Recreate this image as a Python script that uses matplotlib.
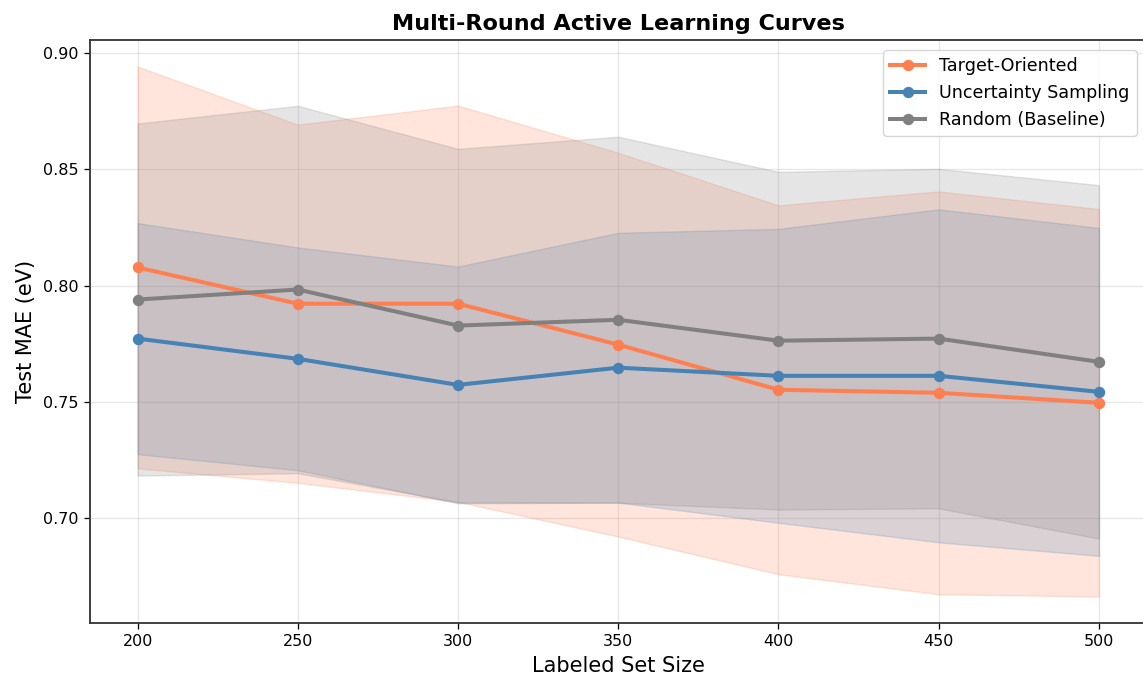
import matplotlib
matplotlib.use("Agg")
import matplotlib.pyplot as plt
import numpy as np

sizes = [200, 250, 300, 350, 400, 450, 500]

target_mean = [0.8078, 0.7922, 0.7922, 0.7746, 0.7552, 0.7539, 0.7496]
target_std = [0.0864, 0.0770, 0.0852, 0.0825, 0.0793, 0.0866, 0.0833]

uncert_mean = [0.7772, 0.7685, 0.7573, 0.7647, 0.7612, 0.7612, 0.7543]
uncert_std = [0.0497, 0.0479, 0.0509, 0.0580, 0.0632, 0.0716, 0.0705]

random_mean = [0.7940, 0.7983, 0.7828, 0.7853, 0.7763, 0.7772, 0.7672]
random_std = [0.0757, 0.0790, 0.0760, 0.0787, 0.0726, 0.0730, 0.0760]

labels = ["Target-Oriented", "Uncertainty Sampling", "Random (Baseline)"]
colors = ["#FF7F50", "#4682B4", "#808080"]

k = 1.15
plt.rcParams.update({
    "xtick.major.size": 3.5 * k,
    "ytick.major.size": 3.5 * k,
    "xtick.major.pad": 3.5 * k,
    "ytick.major.pad": 3.5 * k,
    "axes.labelpad": 4.0 * k,
    "axes.titlepad": 6.0 * k,
})

fig = plt.figure(figsize=(11.43, 6.86), dpi=100)
ax = fig.add_axes([89.5 / 1143, 0.0918, 1057.5 / 1143, 0.8499])

x = np.array(sizes)
for mean, std, lab, col in zip([target_mean, uncert_mean, random_mean],
                               [target_std, uncert_std, random_std],
                               labels, colors):
    m = np.array(mean)
    s = np.array(std)
    ax.plot(x, m, "-o", color=col, lw=2.9, ms=7.2, label=lab, zorder=3)
    ax.fill_between(x, m - s, m + s, color=col, alpha=0.2, zorder=2)

ax.set_xticks(sizes)
ax.set_yticks([0.70, 0.75, 0.80, 0.85, 0.90])
ax.set_yticklabels(["0.70", "0.75", "0.80", "0.85", "0.90"])
ax.tick_params(labelsize=11.5, width=0.8 * k)
ax.grid(True, alpha=0.3, lw=0.8 * k)
ax.set_axisbelow(True)
for sp in ax.spines.values():
    sp.set_color("#333333")
    sp.set_linewidth(1.3)

ax.set_xlabel("Labeled Set Size", fontsize=15)
ax.set_ylabel("Test MAE (eV)", fontsize=15)
ax.set_title("Multi-Round Active Learning Curves", fontsize=16.1, fontweight="bold")
ax.legend(loc="upper right", fontsize=12.65, borderaxespad=0.5 * k,
          handlelength=2.0, handletextpad=0.8, labelspacing=0.5)

fig.savefig("out.png", dpi=100)
